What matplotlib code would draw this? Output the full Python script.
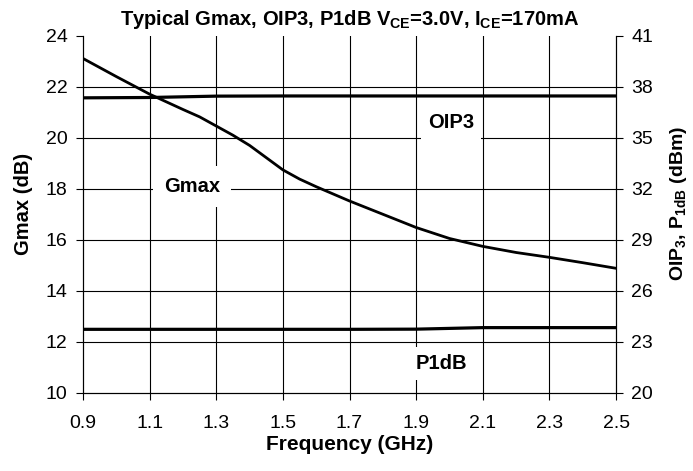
import numpy as np
from matplotlib import pyplot as plt

plt.rcParams['font.family'] = ['Liberation Sans', 'DejaVu Sans']
plt.rcParams['mathtext.fontset'] = 'custom'
plt.rcParams['mathtext.rm'] = 'Liberation Sans'
plt.rcParams['mathtext.bf'] = 'Liberation Sans:bold'

# frequency points (GHz) and Gmax (dB)
freq = [0.9, 1.0, 1.1, 1.2, 1.25, 1.3, 1.35, 1.4, 1.45, 1.5, 1.55, 1.6, 1.7, 1.8,
        1.9, 2.0, 2.1, 2.2, 2.3, 2.4, 2.5]
gmax = [23.11, 22.4, 21.71, 21.11, 20.82, 20.46, 20.1, 19.7, 19.22, 18.74, 18.38,
        18.08, 17.52, 17.0, 16.48, 16.05, 15.74, 15.5, 15.31, 15.1, 14.88]

# OIP3 and P1dB (dBm)
freq_p = [0.9, 1.1, 1.3, 1.5, 1.7, 1.9, 2.1, 2.3, 2.5]
oip3 = [37.35, 37.37, 37.45, 37.46, 37.46, 37.46, 37.46, 37.46, 37.46]
p1db = [23.73, 23.73, 23.73, 23.73, 23.73, 23.74, 23.83, 23.83, 23.83]

xticks = [0.9, 1.1, 1.3, 1.5, 1.7, 1.9, 2.1, 2.3, 2.5]
gticks = [10, 12, 14, 16, 18, 20, 22, 24]
pticks = [20, 23, 26, 29, 32, 35, 38, 41]

fig, ax = plt.subplots(figsize=(6.93, 4.71), dpi=100)
fig.subplots_adjust(left=0.1198, right=0.889, top=0.924, bottom=0.1662)
ax2 = ax.twinx()

ax.set_xlim(0.9, 2.5)
ax.set_ylim(10, 24)
ax2.set_ylim(20, 41)
ax.set_xticks(xticks)
ax.set_xticklabels(['%.1f' % v for v in xticks])
ax.set_yticks(gticks)
ax2.set_yticks(pticks)

# grid: verticals everywhere, horizontals below the top edge
for x in xticks[1:-1]:
    ax.axvline(x, color='black', lw=0.8, zorder=0.5)
for y in gticks[1:-1]:
    ax.axhline(y, color='black', lw=0.8, zorder=0.5)

for a in (ax, ax2):
    a.spines['top'].set_visible(False)
    for s in a.spines.values():
        s.set_linewidth(0.8)
    a.tick_params(direction='out', length=5, width=0.8, labelsize=14, pad=6)
ax.tick_params(axis='x', pad=11)

ax.plot(freq, gmax, color='black', lw=2.0, zorder=3)
ax2.plot(freq_p, oip3, color='black', lw=2.3, zorder=3)
ax2.plot(freq_p, p1db, color='black', lw=2.3, zorder=3)

ax.text(1.227, 18.08, 'Gmax', fontsize=14.5, fontweight='bold', ha='center', va='center',
        bbox=dict(boxstyle='square,pad=0.55', fc='white', ec='none'), zorder=2)
ax.text(2.005, 20.58, 'OIP3', fontsize=14.5, fontweight='bold', ha='center', va='center',
        bbox=dict(boxstyle='square,pad=0.35', fc='white', ec='none'), zorder=2)
ax.text(1.975, 11.16, 'P1dB', fontsize=14.5, fontweight='bold', ha='center', va='center',
        bbox=dict(boxstyle='square,pad=0.35', fc='white', ec='none'), zorder=2)

ax.set_xlabel('Frequency (GHz)', fontsize=15, fontweight='bold', labelpad=2)
ax.set_ylabel('Gmax (dB)', fontsize=14.5, fontweight='bold')
ax2.set_ylabel(r'OIP$_\mathbf{3}$, P$_\mathbf{1dB}$ (dBm)', fontsize=14, fontweight='bold')
ax.yaxis.set_label_coords(-0.094, 0.53)
ax2.yaxis.set_label_coords(1.098, 0.53)
ax.set_title(r'Typical Gmax, OIP3, P1dB V$_\mathbf{CE}$=3.0V, I$_\mathbf{CE}$=170mA',
             fontsize=14.5, fontweight='bold', pad=8)

plt.savefig('out.png', dpi=100)
